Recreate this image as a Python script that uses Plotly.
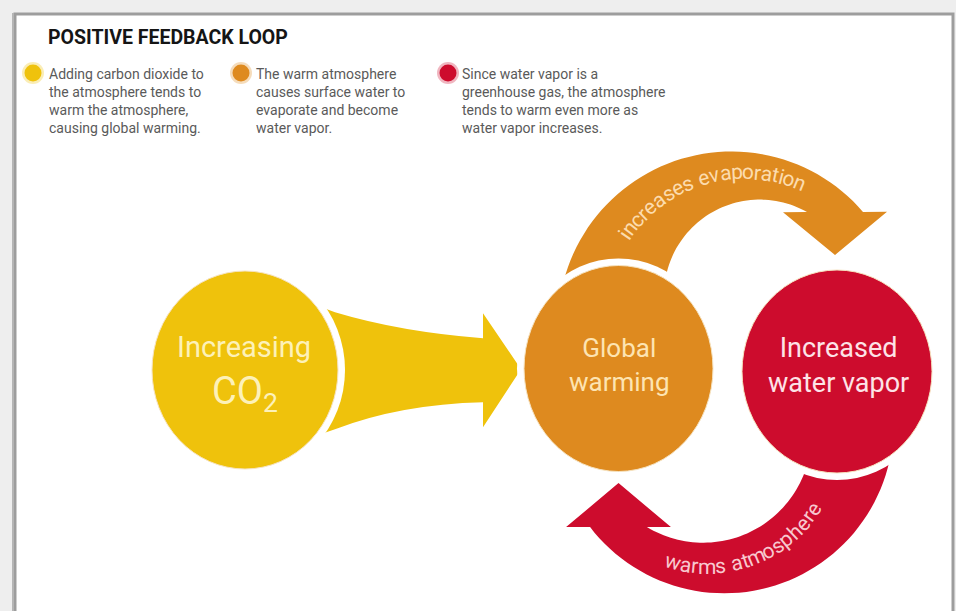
import numpy as np
import plotly.graph_objects as go

# ---------------- data ----------------
title_text = "POSITIVE FEEDBACK LOOP"
legend_lines = [
    ["Adding carbon dioxide to", "the atmosphere tends to", "warm the atmosphere,", "causing global warming."],
    ["The warm atmosphere", "causes surface water to", "evaporate and become", "water vapor."],
    ["Since water vapor is a", "greenhouse gas, the atmosphere", "tends to warm even more as", "water vapor increases."],
]
node_line1 = ["Increasing", "Global", "Increased"]
node_line2 = ["CO<sub>2</sub>", "warming", "water vapor"]
loop_labels = ["increases evaporation", "warms atmosphere"]

# ---------------- styles / geometry ----------------
node_colors = ["#efc20c", "#de8a1f", "#cd0c2d"]
node_text_colors = ["#fdf1b8", "#fde4b2", "#fde3e7"]
loop_colors = ["#de8a1f", "#cd0c2d"]
loop_text_colors = ["#fcdcae", "#f8c8cf"]
FONT = "Roboto, sans-serif"

W, H = 956, 611
node_cx = [245, 618.5, 837]
node_cy = [370, 368.5, 371.5]
node_rx = [93, 94.5, 95]
node_ry = [99, 103, 101.5]
node_size1 = [29, 26, 27]
node_size2 = [38, 26, 27]
HALO = 7

fig = go.Figure()
shapes = []
annotations = []

# background + frame
shapes.append(dict(type="rect", xref="x", yref="y", x0=0, x1=W, y0=0, y1=H,
                   fillcolor="#eeeeee", line=dict(width=0), layer="below"))
shapes.append(dict(type="rect", xref="x", yref="y", x0=15, x1=953, y0=14, y1=H + 20,
                   fillcolor="white", line=dict(color="#9d9d9d", width=3), layer="below"))
shapes.append(dict(type="line", xref="x", yref="y", x0=13, x1=13, y0=13, y1=H,
                   line=dict(color="#b5b5b5", width=2), layer="below"))


def path_from(points):
    return "M " + " L ".join(f"{x:.1f},{y:.1f}" for x, y in points) + " Z"


def arc_pts(cx, cy, r, a0, a1, n=60):
    t = np.radians(np.linspace(a0, a1, n))
    return list(zip(cx + r * np.cos(t), cy + r * np.sin(t)))


# ---- straight yellow arrow: from node 0 to node 1 ----
ay = (node_cy[0] + node_cy[1]) / 2
tip_x = node_cx[1] - node_rx[1] - 3
hb = tip_x - 38
sx = node_cx[0] + 55
yellow_path = (
    f"M {sx},{ay-70} L {sx+35},{ay-57} Q {sx+100},{ay-37.5} {hb},{ay-31} "
    f"L {hb},{ay-56} L {tip_x},{ay} L {hb},{ay+58} L {hb},{ay+33} "
    f"Q {sx+100},{ay+35} {sx+35},{ay+60} L {sx},{ay+72} Z"
)
shapes.append(dict(type="path", xref="x", yref="y", path=yellow_path,
                   fillcolor=node_colors[0], line=dict(width=0)))


# ---- curved loop arrows ----
def loop_arrow(outer, inner, o_a0, o_a1, i_a1, i_a0, barb, tip_off):
    po = arc_pts(*outer, o_a0, o_a1)
    pi = arc_pts(*inner, i_a1, i_a0)
    ox, oy = po[-1]
    ix, iy = pi[0]
    dx, dy = ox - ix, oy - iy
    L = np.hypot(dx, dy)
    ux, uy = dx / L, dy / L
    mx, my = (ox + ix) / 2, (oy + iy) / 2
    px, py = tip_off
    head = [(ox + ux * barb, oy + uy * barb), (mx + px, my + py), (ix - ux * barb, iy - uy * barb)]
    return po + head + pi


orange_pts = loop_arrow((731.5, 325, 173.5), (759.7, 295.3, 95.7), 175, 319.3, 299.6, 170, 24, (0, 43))
red_pts = loop_arrow((724.3, 424.1, 169.2), (703.1, 434.3, 108.4), -5, 142.5, 121.2, 5, 24, (0, -44))
shapes.append(dict(type="path", xref="x", yref="y", path=path_from(orange_pts),
                   fillcolor=loop_colors[0], line=dict(width=0)))
shapes.append(dict(type="path", xref="x", yref="y", path=path_from(red_pts),
                   fillcolor=loop_colors[1], line=dict(width=0)))

# ---- nodes: white halo + disc ----
for i in range(3):
    shapes.append(dict(type="circle", xref="x", yref="y",
                       x0=node_cx[i] - node_rx[i] - HALO, x1=node_cx[i] + node_rx[i] + HALO,
                       y0=node_cy[i] - node_ry[i] - HALO, y1=node_cy[i] + node_ry[i] + HALO,
                       fillcolor="white", line=dict(width=0)))
    shapes.append(dict(type="circle", xref="x", yref="y",
                       x0=node_cx[i] - node_rx[i], x1=node_cx[i] + node_rx[i],
                       y0=node_cy[i] - node_ry[i], y1=node_cy[i] + node_ry[i],
                       fillcolor=node_colors[i], line=dict(color="#f6e3c0", width=1)))
    if i == 0:
        annotations.append(dict(x=node_cx[i] - 1, y=347, text=node_line1[i], showarrow=False,
                                xanchor="center", yanchor="middle",
                                font=dict(family=FONT, size=node_size1[i], color=node_text_colors[i])))
        annotations.append(dict(x=node_cx[i], y=393, text=node_line2[i], showarrow=False,
                                xanchor="center", yanchor="middle",
                                font=dict(family=FONT, size=node_size2[i], color=node_text_colors[i])))
    else:
        annotations.append(dict(x=node_cx[i] + 1, y=365,
                                text=node_line1[i] + "<br>" + node_line2[i], showarrow=False,
                                xanchor="center", yanchor="middle", align="center",
                                font=dict(family=FONT, size=node_size1[i], color=node_text_colors[i])))

# ---- title & legend ----
annotations.append(dict(x=46, y=37, text=f"<b>{title_text}</b>", showarrow=False,
                        xanchor="left", yanchor="middle",
                        font=dict(family=FONT, size=19.5, color="#151515")))
bullet_x = [33, 241, 448]
text_x = [47, 254, 460]
for k in range(3):
    shapes.append(dict(type="circle", xref="x", yref="y", x0=bullet_x[k] - 11, x1=bullet_x[k] + 11,
                       y0=73 - 11, y1=73 + 11, fillcolor=node_colors[k], opacity=0.3, line=dict(width=0)))
    shapes.append(dict(type="circle", xref="x", yref="y", x0=bullet_x[k] - 8.5, x1=bullet_x[k] + 8.5,
                       y0=73 - 8.5, y1=73 + 8.5, fillcolor=node_colors[k], line=dict(width=0)))
    for j, line in enumerate(legend_lines[k]):
        annotations.append(dict(x=text_x[k], y=74 + 18 * j, text=line, showarrow=False,
                                xanchor="left", yanchor="middle",
                                font=dict(family=FONT, size=14, color="#5a5a5a")))

# ---- curved labels (one glyph per annotation) ----
ARIAL = {'a': 556, 'b': 556, 'c': 500, 'd': 556, 'e': 556, 'f': 278, 'g': 556, 'h': 556, 'i': 222,
         'j': 222, 'k': 500, 'l': 222, 'm': 833, 'n': 556, 'o': 556, 'p': 556, 'q': 556, 'r': 333,
         's': 500, 't': 278, 'u': 556, 'v': 500, 'w': 722, 'x': 500, 'y': 500, 'z': 500, ' ': 278}


def arc_text(text, cx, cy, r, mid_deg, sign, size, color, tracking):
    widths = [ARIAL.get(c, 556) / 1000 * 0.92 * size for c in text]
    total = sum(widths) + tracking * (len(text) - 1)
    s = -total / 2
    for c, w in zip(text, widths):
        sc = s + w / 2
        th = np.radians(mid_deg) + sign * sc / r
        x, y = cx + r * np.cos(th), cy + r * np.sin(th)
        rot = np.degrees(th) + (90 if sign > 0 else -90)
        rot = (rot + 180) % 360 - 180
        if c != ' ':
            annotations.append(dict(x=x, y=y, text=c, showarrow=False, textangle=rot,
                                    xanchor="center", yanchor="middle",
                                    font=dict(family=FONT, size=size, color=color)))
        s += w + tracking


arc_text(loop_labels[0], 745, 318, 146, 254, +1, 21, loop_text_colors[0], 0.8)
arc_text(loop_labels[1], 707, 440, 127, 69.5, -1, 21, loop_text_colors[1], 0.6)

fig.update_layout(
    width=W, height=H, autosize=False,
    margin=dict(l=0, r=0, t=0, b=0),
    paper_bgcolor="white", plot_bgcolor="white",
    xaxis=dict(range=[0, W], visible=False, fixedrange=True),
    yaxis=dict(range=[H, 0], visible=False, fixedrange=True),
    shapes=shapes, annotations=annotations, showlegend=False,
)
fig.write_html("out.html", config={"displayModeBar": False},
               post_script="document.body.style.margin='0';document.body.style.overflow='hidden';")
